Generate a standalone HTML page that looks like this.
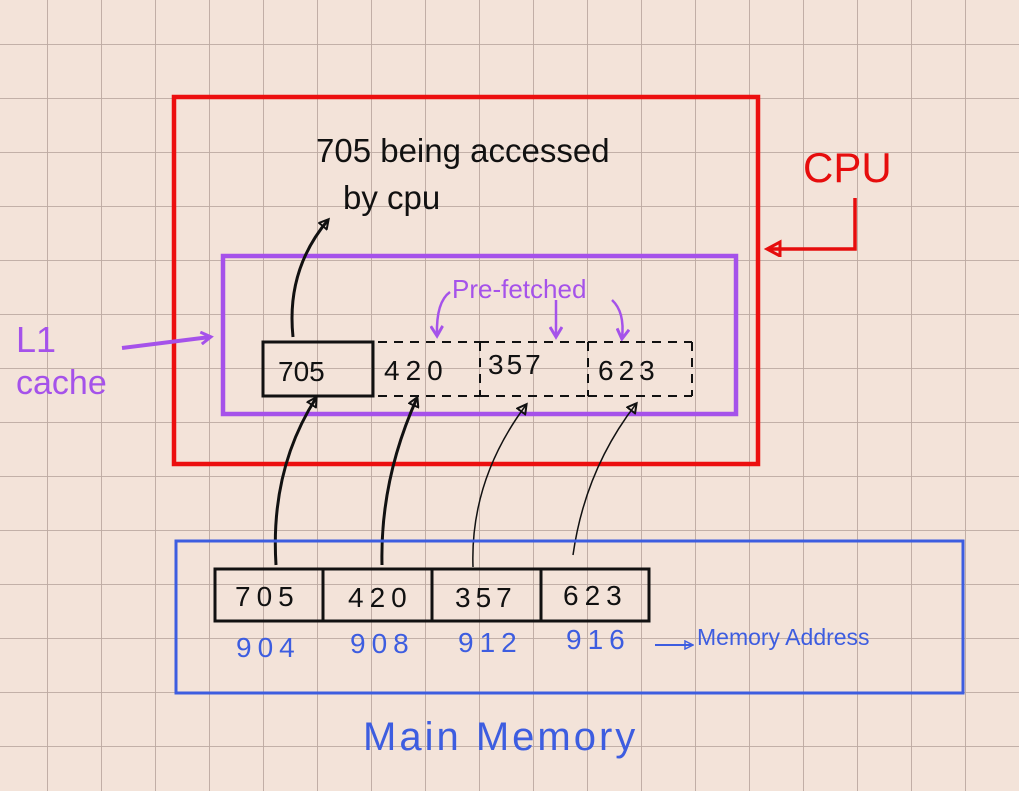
<!DOCTYPE html>
<html><head><style>
html,body{margin:0;padding:0;}
body{width:1019px;height:791px;overflow:hidden;background:#f3e3d9;}
svg{display:block;}
text{font-family:"Liberation Sans",sans-serif;}
</style></head><body>
<svg width="1019" height="791" viewBox="0 0 1019 791" xmlns="http://www.w3.org/2000/svg">
<defs>
<pattern id="g" x="47" y="44" width="54" height="54" patternUnits="userSpaceOnUse">
<path d="M0 0V54M0 0H54" stroke="#bba9a1" stroke-width="1.8" fill="none"/>
</pattern>
<marker id="ab" markerWidth="12" markerHeight="12" refX="9" refY="6" orient="auto" markerUnits="userSpaceOnUse"><path d="M1 1L10 6L1 11Z" fill="none" stroke="#111" stroke-width="2"/></marker>
<marker id="ap" markerWidth="14" markerHeight="14" refX="10" refY="7" orient="auto" markerUnits="userSpaceOnUse"><path d="M1 1L11 7L1 13" fill="none" stroke="#a552ea" stroke-width="3"/></marker>
<marker id="ar" markerWidth="18" markerHeight="18" refX="14" refY="8" orient="auto" markerUnits="userSpaceOnUse"><path d="M2 1L15 8L2 15Z" fill="none" stroke="#e60d0d" stroke-width="3"/></marker>
<marker id="abl" markerWidth="10" markerHeight="10" refX="8" refY="5" orient="auto" markerUnits="userSpaceOnUse"><path d="M1 1L9 5L1 9Z" fill="none" stroke="#3d5de0" stroke-width="1.5"/></marker>
</defs>
<rect width="1019" height="791" fill="url(#g)"/>
<!-- CPU -->
<rect x="174" y="97" width="584" height="367" fill="none" stroke="#ec0f0f" stroke-width="4.5"/>
<text x="803" y="182" font-size="42" fill="#e60d0d" font-family="Liberation Mono,monospace">CPU</text>
<path d="M855 198V249H768" fill="none" stroke="#e60d0d" stroke-width="3.5" marker-end="url(#ar)"/>
<!-- L1 -->
<rect x="223" y="256" width="513" height="158" fill="none" stroke="#a552ea" stroke-width="4.5"/>
<text x="16" y="352" font-size="36" fill="#a552ea" font-family="Liberation Mono,monospace">L1</text>
<text x="16" y="394" font-size="34" fill="#a552ea" font-family="Liberation Mono,monospace">cache</text>
<path d="M122 348L210 337" stroke="#a552ea" stroke-width="4" marker-end="url(#ap)"/>
<text x="452" y="298" font-size="26" fill="#a552ea">Pre-fetched</text>
<path d="M450 292Q436 302 437 335" fill="none" stroke="#a552ea" stroke-width="2.5" marker-end="url(#ap)"/>
<path d="M556 300V336" fill="none" stroke="#a552ea" stroke-width="2.5" marker-end="url(#ap)"/>
<path d="M612 300Q625 312 622 338" fill="none" stroke="#a552ea" stroke-width="2.5" marker-end="url(#ap)"/>
<!-- cache cells -->
<rect x="263" y="342" width="110" height="54" fill="none" stroke="#111" stroke-width="3"/>
<text x="278" y="381" font-size="28" fill="#111">705</text>
<path d="M378 342H480M378 396H480M480 342V396M588 342H692M588 396H692M588 342V396M692 342V396" fill="none" stroke="#111" stroke-width="2" stroke-dasharray="9 7"/>
<path d="M480 342H588M480 396H588" fill="none" stroke="#111" stroke-width="2" stroke-dasharray="9 7"/>
<text x="384" y="380" font-size="28" fill="#111" letter-spacing="6">420</text>
<text x="488" y="374" font-size="28" fill="#111" letter-spacing="3">357</text>
<text x="598" y="380" font-size="28" fill="#111" letter-spacing="5">623</text>
<text x="316" y="162" font-size="33" fill="#111">705 being accessed</text>
<text x="343" y="209" font-size="33" fill="#111">by cpu</text>
<path d="M293 337Q286 270 328 220" fill="none" stroke="#111" stroke-width="3" marker-end="url(#ab)"/>
<!-- arrows from memory -->
<path d="M276 565Q270 470 316 398" fill="none" stroke="#111" stroke-width="3" marker-end="url(#ab)"/>
<path d="M382 565Q380 480 417 398" fill="none" stroke="#111" stroke-width="3" marker-end="url(#ab)"/>
<path d="M473 567Q470 480 526 405" fill="none" stroke="#111" stroke-width="1.5" marker-end="url(#ab)"/>
<path d="M573 555Q585 470 636 404" fill="none" stroke="#111" stroke-width="1.5" marker-end="url(#ab)"/>
<!-- main memory -->
<rect x="176" y="541" width="787" height="152" fill="none" stroke="#3d5de0" stroke-width="3"/>
<rect x="215" y="569" width="108" height="52" fill="none" stroke="#111" stroke-width="3"/>
<rect x="323" y="569" width="109" height="52" fill="none" stroke="#111" stroke-width="3"/>
<rect x="432" y="569" width="109" height="52" fill="none" stroke="#111" stroke-width="3"/>
<rect x="541" y="569" width="108" height="52" fill="none" stroke="#111" stroke-width="3"/>
<text x="235" y="606" font-size="28" fill="#111" letter-spacing="6">705</text>
<text x="348" y="607" font-size="28" fill="#111" letter-spacing="6">420</text>
<text x="455" y="607" font-size="28" fill="#111" letter-spacing="5">357</text>
<text x="563" y="605" font-size="28" fill="#111" letter-spacing="6">623</text>
<g fill="#3d5de0" font-size="28" letter-spacing="6">
<text x="236" y="657">904</text><text x="350" y="653">908</text><text x="458" y="652">912</text><text x="566" y="649">916</text>
</g>
<path d="M655 645H692" stroke="#3d5de0" stroke-width="2" marker-end="url(#abl)"/>
<text x="697" y="645" font-size="23" fill="#3d5de0">Memory Address</text>
<text x="363" y="750" font-size="40" fill="#3d5de0" letter-spacing="3">Main  Memory</text>
</svg>
</body></html>
